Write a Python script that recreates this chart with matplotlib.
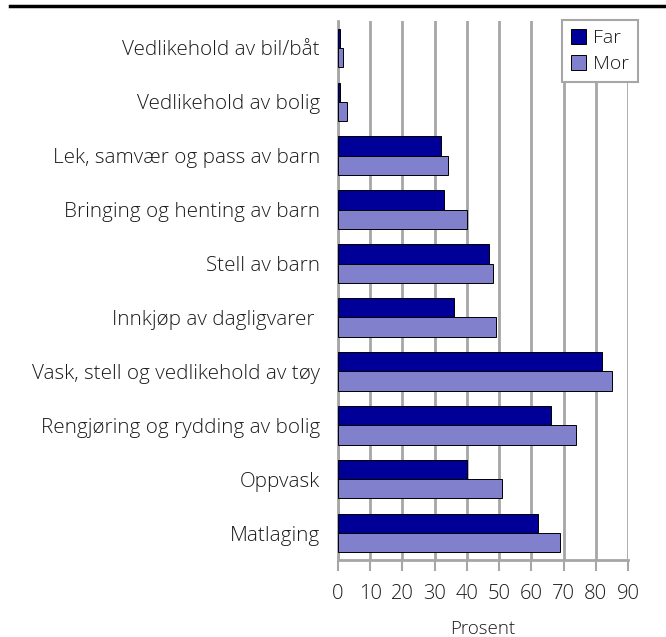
import matplotlib.pyplot as plt
import numpy as np
from matplotlib.lines import Line2D

OUTPUT_FILE = 'out.png'

# categories from top to bottom
categories = ['Vedlikehold av bil/båt', 'Vedlikehold av bolig',
              'Lek, samvær og pass av barn', 'Bringing og henting av barn',
              'Stell av barn', 'Innkjøp av dagligvarer ',
              'Vask, stell og vedlikehold av tøy', 'Rengjøring og rydding av bolig',
              'Oppvask', 'Matlaging']
far = [0.7, 0.7, 32, 33, 47, 36, 82, 66, 40, 62]
mor = [1.7, 2.7, 34, 40, 48, 49, 85, 74, 51, 69]
x_ticks = [0, 10, 20, 30, 40, 50, 60, 70, 80, 90]

FAR_COLOR = '#000099'
MOR_COLOR = '#8080cc'
GRID_COLOR = '#a6a6a6'
TEXT_COLOR = '#1a1a1a'

plt.rcParams['font.family'] = ['Open Sans', 'DejaVu Sans']

fig = plt.figure(figsize=(6.66, 6.37), dpi=100)
ax = fig.add_axes([338 / 666, 1 - 560 / 637, 290 / 666, 539 / 637])

#bars, Far above Mor in each group
y = np.arange(len(categories))
h = 0.358
ax.barh(y - h / 2, far, height=h, color=FAR_COLOR, edgecolor='black', linewidth=0.7, label='Far', zorder=3)
ax.barh(y + h / 2, mor, height=h, color=MOR_COLOR, edgecolor='black', linewidth=0.7, label='Mor', zorder=3)

ax.set_ylim(len(categories) - 0.5, -0.5)
ax.set_xlim(0, 90)
ax.set_yticks(y)
ax.set_yticklabels(categories, fontsize=14.9, color=TEXT_COLOR, fontweight='light')
ax.tick_params(axis='y', length=0, pad=13)
ax.set_xticks(x_ticks)
ax.set_xticklabels([str(t) for t in x_ticks], fontweight='light')
ax.tick_params(axis='x', length=8, width=1.5, color=GRID_COLOR, labelsize=14.5, pad=9, labelcolor=TEXT_COLOR)
ax.set_xlabel('Prosent', fontsize=13.5, color=TEXT_COLOR, labelpad=12, fontweight='light')

#vertical grid lines
ax.xaxis.grid(True, color=GRID_COLOR, linewidth=2, zorder=0)
ax.set_axisbelow(True)
for s in ['top', 'right']:
    ax.spines[s].set_visible(False)
ax.spines['left'].set_color(GRID_COLOR)
ax.spines['left'].set_linewidth(2)
ax.spines['bottom'].set_color(GRID_COLOR)
ax.spines['bottom'].set_linewidth(2)

leg = ax.legend(loc='upper left', bbox_to_anchor=(562 / 666, 1 - 20 / 637), bbox_transform=fig.transFigure,
                prop={'size': 14, 'weight': 'light'}, frameon=True, fancybox=False,
                handlelength=0.8, handleheight=0.8, handletextpad=0.35, borderpad=0.45,
                labelspacing=0.4, borderaxespad=0)
leg.get_frame().set_edgecolor(GRID_COLOR)
leg.get_frame().set_linewidth(1.5)
leg.get_frame().set_alpha(1)
for t in leg.get_texts():
    t.set_color(TEXT_COLOR)

#rule across the top
fig.add_artist(Line2D([10 / 666, 665 / 666], [1 - 6 / 637, 1 - 6 / 637], color='black', linewidth=2.5,
                      transform=fig.transFigure))

plt.savefig(OUTPUT_FILE, dpi=100)
plt.close()
